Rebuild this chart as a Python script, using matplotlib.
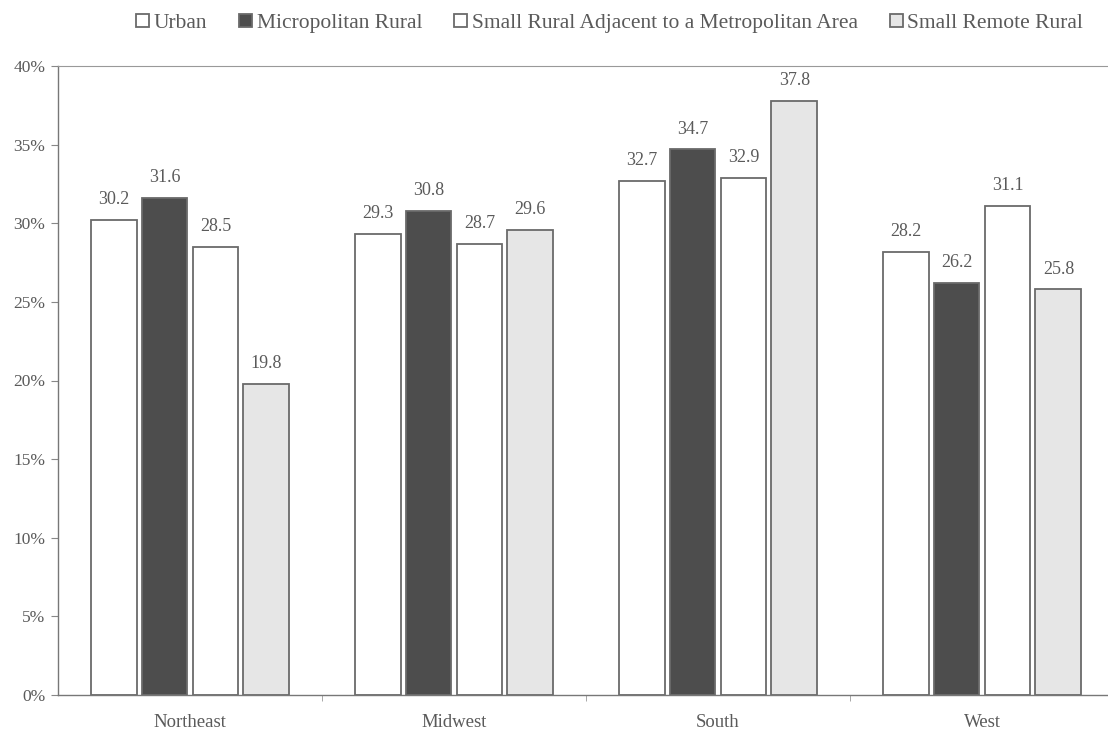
import numpy as np
import matplotlib
matplotlib.use("Agg")
import matplotlib.pyplot as plt

regions = ["Northeast", "Midwest", "South", "West"]
series = ["Urban", "Micropolitan Rural",
          "Small Rural Adjacent to a Metropolitan Area", "Small Remote Rural"]
urban = [30.2, 29.3, 32.7, 28.2]
micropolitan = [31.6, 30.8, 34.7, 26.2]
small_adjacent = [28.5, 28.7, 32.9, 31.1]
small_remote = [19.8, 29.6, 37.8, 25.8]
yticks = [0, 5, 10, 15, 20, 25, 30, 35, 40]

values = [urban, micropolitan, small_adjacent, small_remote]
colors = ["white", "#4d4d4d", "white", "#e6e6e6"]
text_color = "#5a5a5a"
edge = "#6a6a6a"

plt.rcParams["font.family"] = ["Liberation Serif", "DejaVu Serif"]

fig = plt.figure(figsize=(11.08, 7.32), dpi=100)
ax = fig.add_axes([58 / 1108, 1 - 695 / 732, 1 - 58 / 1108, (695 - 66) / 732])

x = np.arange(len(regions))
step = 0.193
width = 0.174
for i, (name, vals, col) in enumerate(zip(series, values, colors)):
    pos = x + (i - 1.5) * step
    bars = ax.bar(pos, vals, width, color=col, edgecolor=edge, linewidth=1.3, label=name)
    for b, v in zip(bars, vals):
        ax.text(b.get_x() + b.get_width() / 2, v + 0.75, f"{v:.1f}",
                ha="center", va="bottom", fontsize=13, color=text_color)

ax.set_xlim(-0.5, 3.5 - 6 / 264)
ax.set_ylim(0, 40)
ax.set_yticks(yticks)
ax.set_yticklabels([f"{t}%" for t in yticks], fontsize=12.5, color=text_color)
ax.set_xticks(x)
ax.set_xticklabels(regions, fontsize=13.5, color=text_color)
ax.tick_params(axis="x", length=0, pad=14)
ax.set_xticks(np.arange(0.5, 3.5, 1), minor=True)
ax.tick_params(axis="x", which="minor", length=4, color="#999999", direction="out")
ax.tick_params(axis="y", length=5, color="#888888", pad=4)

for s in ["left", "bottom"]:
    ax.spines[s].set_color("#777777")
    ax.spines[s].set_linewidth(1.0)
ax.spines["top"].set_color("#999999")
ax.spines["top"].set_linewidth(0.8)
ax.spines["top"].set_linestyle((0, (6, 1)))
ax.spines["right"].set_visible(False)

leg = fig.legend(loc="upper right", bbox_to_anchor=(0.995, 1.008), ncol=4, frameon=False,
                 fontsize=15.5, handlelength=0.6, handleheight=0.6, handletextpad=0.2,
                 columnspacing=1.5, labelcolor=text_color)

fig.savefig("out.png", dpi=100, facecolor="white")
